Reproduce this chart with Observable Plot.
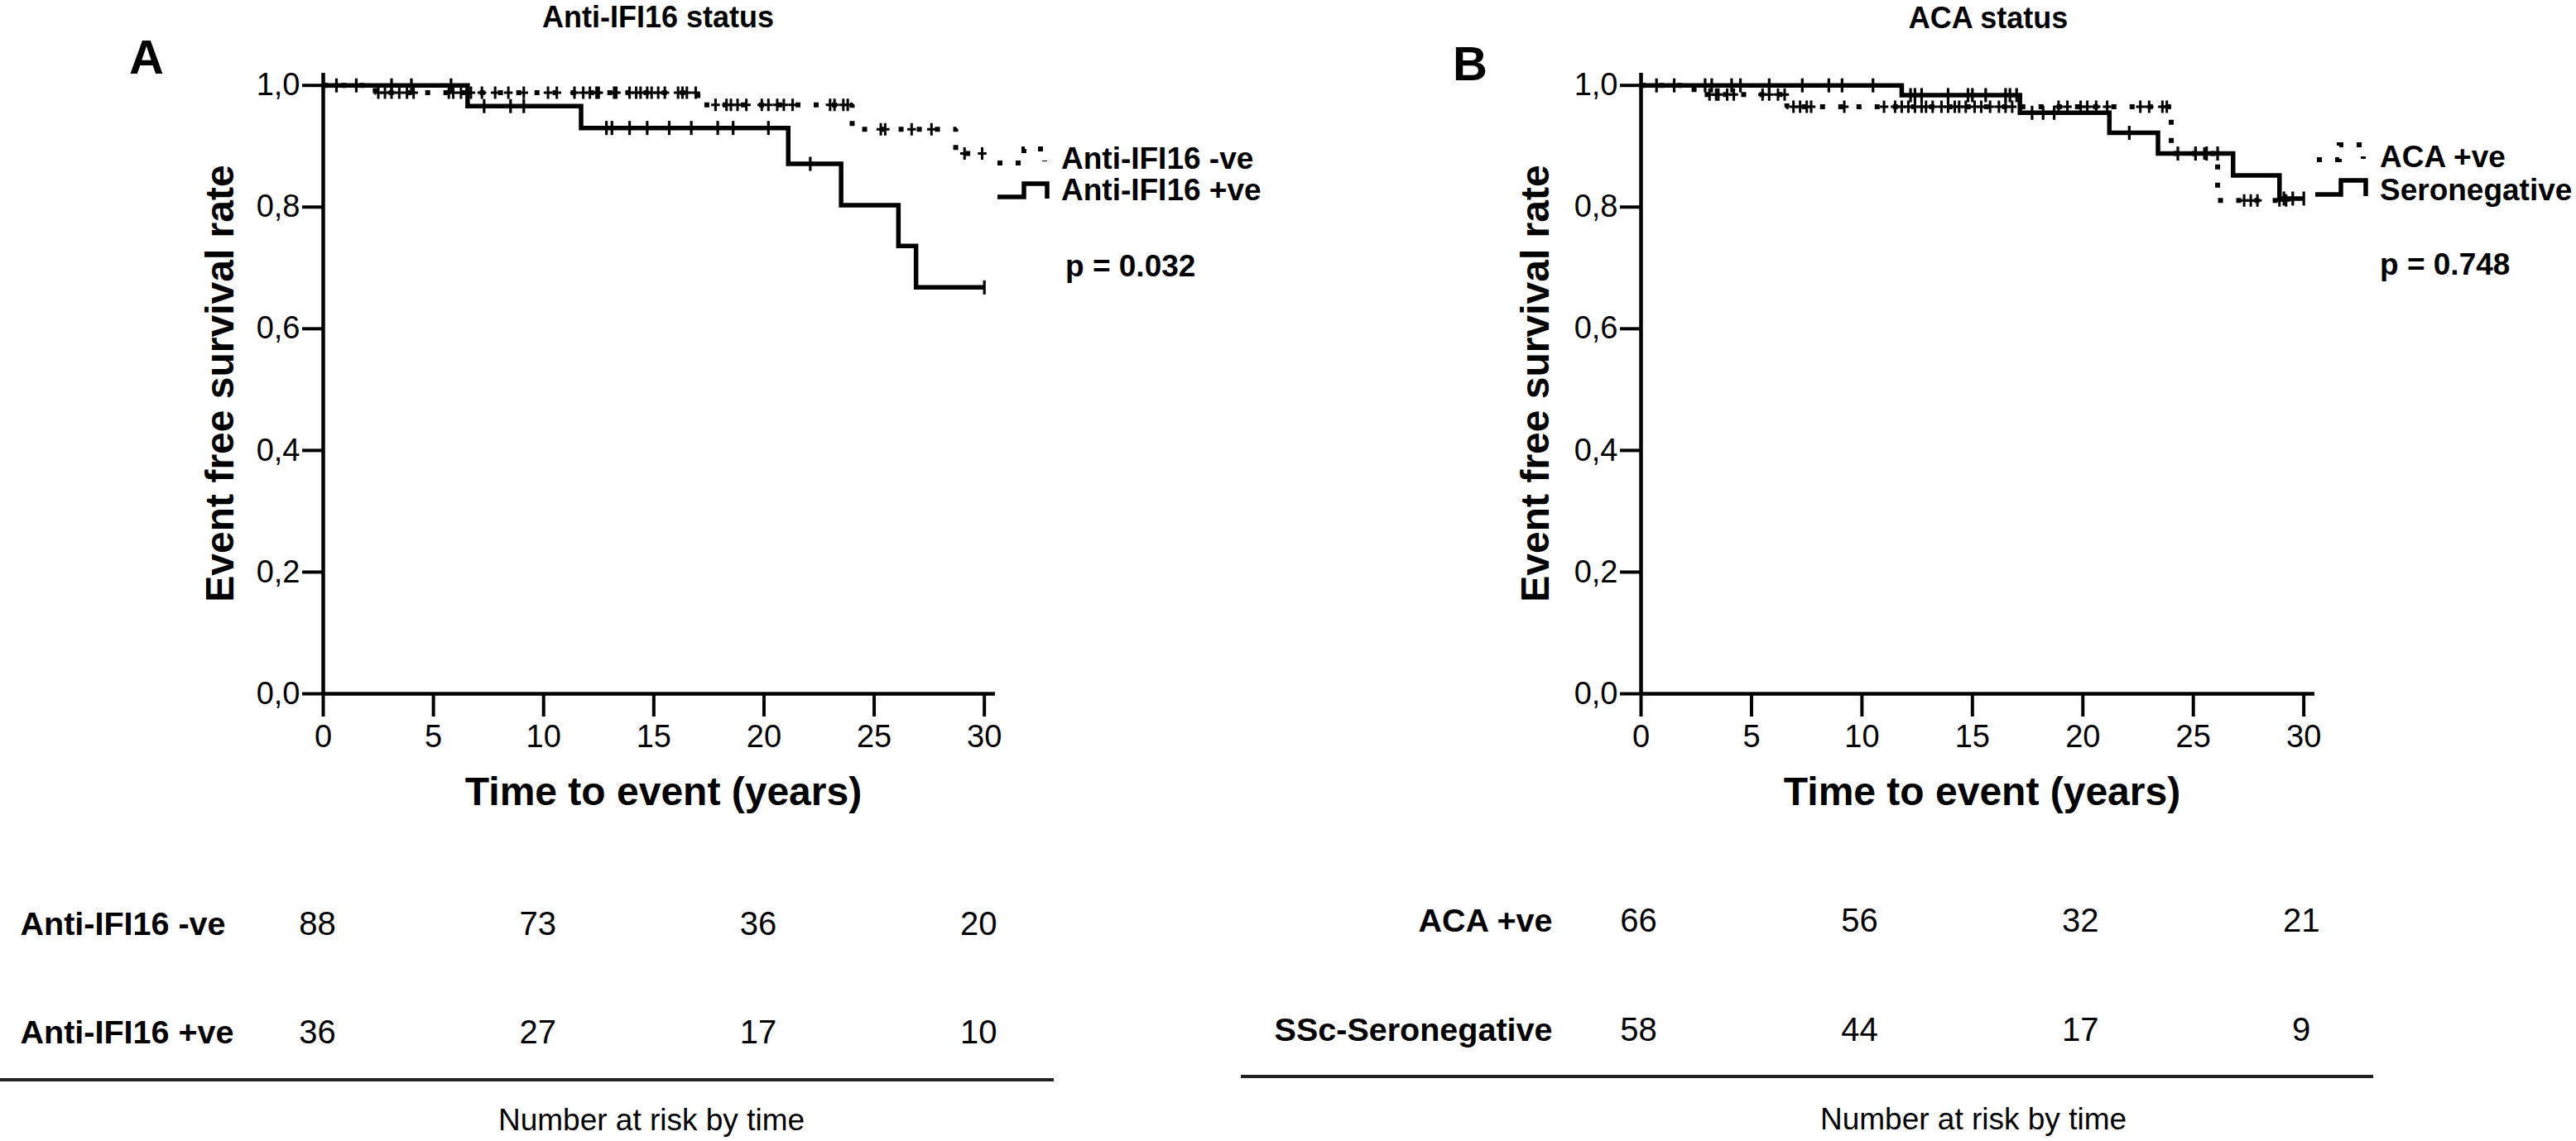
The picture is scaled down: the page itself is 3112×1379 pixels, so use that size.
<!DOCTYPE html>
<html><head><meta charset="utf-8">
<script src="https://cdn.jsdelivr.net/npm/d3@7"></script>
<script src="https://cdn.jsdelivr.net/npm/@observablehq/plot@0.6"></script>
<style>
html,body{margin:0;padding:0;background:#fff;}
#page{position:relative;width:3112px;height:1379px;overflow:hidden;background:#fff;font-family:"Liberation Sans",Arial,sans-serif;color:#000;}
.wrap{position:absolute;}
.lbl{position:absolute;white-space:nowrap;line-height:1.15;font-family:"Liberation Sans",Arial,sans-serif;}
</style></head><body><div id="page"></div>
<script>
// ---------- data ----------
const xTicks = [0, 5, 10, 15, 20, 25, 30];
const yTicks = [0, 0.2, 0.4, 0.6, 0.8, 1.0];
const riskTimes = [0, 10, 20, 30];

// Panel A: Anti-IFI16 status
const aTitle = "Anti-IFI16 status";
const aGroups = ["Anti-IFI16 -ve", "Anti-IFI16 +ve"];
const aNegTime = [0, 2.36, 17.0, 24.0, 28.7, 29.9];
const aNegSurv = [1, 0.988, 0.968, 0.928, 0.888, 0.888];
const aNegCensor = [2.5, 2.8, 3.1, 3.45, 3.8, 4.1, 5.7, 5.9, 6.25, 6.7, 7.2, 7.8, 8.4, 9.1, 10.2, 10.6, 11.4, 11.8, 12.1, 12.4, 12.5, 13.2, 13.3, 13.9, 14.2, 14.4, 14.7, 14.9, 15.2, 15.5, 16.1, 16.3, 16.5, 16.9, 17.8, 18.3, 18.5, 18.8, 19.2, 19.9, 20.2, 20.6, 20.9, 21.3, 23.0, 23.2, 23.6, 23.8, 25.3, 25.5, 26.7, 27.6, 29.1, 29.9];
const aPosTime = [0, 6.55, 11.7, 21.1, 23.5, 26.1, 26.9, 30.0];
const aPosSurv = [1, 0.966, 0.930, 0.871, 0.803, 0.736, 0.668, 0.668];
const aPosCensor = [0.6, 1.5, 3.1, 4.0, 5.8, 7.3, 8.5, 9.1, 12.85, 13.1, 13.9, 14.7, 15.7, 16.7, 17.9, 18.6, 20.2, 22.1, 30.0];
const aRiskNeg = [88, 73, 36, 20];
const aRiskPos = [36, 27, 17, 10];
const aP = "p = 0.032";

// Panel B: ACA status
const bTitle = "ACA status";
const bLegend = ["ACA +ve", "Seronegative"];
const bGroups = ["ACA +ve", "SSc-Seronegative"];
const bAcaTime = [0, 2.4, 6.6, 24.0, 26.1, 29.3];
const bAcaSurv = [1, 0.985, 0.965, 0.888, 0.811, 0.811];
const bAcaCensor = [3.1, 3.4, 3.5, 3.9, 4.2, 5.5, 5.8, 6.2, 6.5, 6.9, 7.2, 7.5, 7.7, 9.2, 11.0, 11.5, 11.8, 12.1, 12.4, 12.7, 12.9, 13.2, 13.6, 13.9, 14.2, 14.4, 14.7, 15.1, 15.4, 15.8, 16.2, 16.5, 16.8, 18.9, 19.3, 19.9, 20.2, 20.6, 21.1, 22.6, 23.0, 23.6, 23.8, 25.1, 25.5, 27.3, 27.6, 27.9, 28.9, 29.2];
const bSeroTime = [0, 11.8, 17.15, 21.2, 23.4, 26.8, 28.9, 30.0];
const bSeroSurv = [1, 0.984, 0.955, 0.922, 0.888, 0.852, 0.814, 0.814];
const bSeroCensor = [0.7, 1.5, 2.9, 3.2, 4.1, 4.5, 5.8, 7.3, 8.5, 9.1, 10.5, 12.2, 12.4, 12.7, 13.9, 14.8, 15.0, 15.6, 16.5, 16.7, 17.0, 17.7, 18.2, 18.7, 22.1, 24.3, 25.1, 25.6, 26.1, 29.1, 29.5, 30.0];
const bRiskAca = [66, 56, 32, 21];
const bRiskSero = [58, 44, 17, 9];
const bP = "p = 0.748";

const xLabel = "Time to event (years)";
const yLabel = "Event free survival rate";
const riskCaption = "Number at risk by time";

// ---------- helpers ----------
const page = document.getElementById("page");
const FONT = "Liberation Sans, Arial, sans-serif";

function steps(times, surv) { return times.map((t, i) => ({t, s: surv[i]})); }
function censors(times, surv, cts) {
  return cts.map(c => {
    let i = 0;
    for (let k = 0; k < times.length; k++) if (times[k] <= c) i = k;
    return {t: c, s: surv[i]};
  });
}
const vtick = {draw(ctx, size) { const r = Math.sqrt(size / Math.PI); ctx.moveTo(0, -r); ctx.lineTo(0, r); }};
const plusSym = {draw(ctx, size) { const r = Math.sqrt(size / Math.PI); ctx.moveTo(0, -r); ctx.lineTo(0, r); ctx.moveTo(-r * 0.7, 0); ctx.lineTo(r * 0.7, 0); }};

function survPlot(cfg) {
  return Plot.plot({
    width: cfg.width, height: 1000,
    marginLeft: cfg.ml, marginRight: cfg.mr, marginTop: 88, marginBottom: 162,
    x: {domain: [0, 30.5]},
    y: {domain: [0, 1.02]},
    style: {fontFamily: FONT, background: "white", color: "black", overflow: "visible"},
    marks: [
      Plot.axisX({ticks: xTicks, tickSize: 28, tickPadding: 10, fontSize: 38, strokeWidth: 4, label: null, tickFormat: d => String(d)}),
      Plot.axisY({ticks: yTicks, tickSize: 25, tickPadding: 3, fontSize: 38, strokeWidth: 4, label: null, tickFormat: d => d.toFixed(1).replace(".", ",")}),
      Plot.ruleX([0], {strokeWidth: 4.5, stroke: "black"}),
      Plot.ruleY([0], {strokeWidth: 4.5, stroke: "black"}),
      Plot.line(steps(cfg.dTime, cfg.dSurv), {x: "t", y: "s", curve: "step-after", stroke: "black", strokeWidth: 6, strokeDasharray: "6,16", strokeLinecap: "butt", strokeLinejoin: "miter"}),
      Plot.line(steps(cfg.sTime, cfg.sSurv), {x: "t", y: "s", curve: "step-after", stroke: "black", strokeWidth: 5.5, strokeLinecap: "butt", strokeLinejoin: "miter", strokeMiterlimit: 4}),
      Plot.dot(censors(cfg.dTime, cfg.dSurv, cfg.dCens), {x: "t", y: "s", symbol: plusSym, r: 7.5, stroke: "black", fill: "none", strokeWidth: 3}),
      Plot.dot(censors(cfg.sTime, cfg.sSurv, cfg.sCens), {x: "t", y: "s", symbol: vtick, r: 8.5, stroke: "black", fill: "none", strokeWidth: 3.2}),
      Plot.text([yLabel], {text: d => d, frameAnchor: "left", rotate: -90, dx: cfg.ydx, lineAnchor: "bottom", textAnchor: "middle", fontSize: 48, fontWeight: "bold", fill: "black"}),
      Plot.text([xLabel], {text: d => d, frameAnchor: "bottom", dx: 5, dy: 134, lineAnchor: "bottom", textAnchor: "middle", fontSize: 48, fontWeight: "bold", fill: "black"})
    ]
  });
}

function riskPlot(cfg) {
  const rows = [];
  cfg.groups.forEach((g, gi) => cfg.counts[gi].forEach((n, i) => rows.push({group: g, t: riskTimes[i], n})));
  return Plot.plot({
    width: cfg.width, height: 300,
    marginLeft: cfg.ml, marginRight: cfg.mr, marginTop: 0, marginBottom: 0,
    x: {domain: [0, 30.5], axis: null},
    y: {type: "point", domain: cfg.groups, range: cfg.yrange, padding: 0, axis: null},
    style: {fontFamily: FONT, background: "transparent", color: "black", overflow: "visible"},
    marks: [
      Plot.text(rows, {x: "t", y: "group", text: d => String(d.n), fontSize: 40, dx: cfg.ndx, fill: "black"}),
      Plot.text(cfg.groups, {y: d => d, text: d => d, frameAnchor: "left", textAnchor: cfg.labelAnchor, dx: cfg.ldx, fontSize: 39.5, fontWeight: "bold", fill: "black"})
    ]
  });
}

function place(el, left, top) {
  const w = document.createElement("div");
  w.className = "wrap";
  w.style.left = left + "px"; w.style.top = top + "px";
  w.appendChild(el);
  page.appendChild(w);
}

// line-height 1.15: baseline sits ~0.921em below the box top; cap centre ~0.563em
function label(text, x, yc, fs, bold, anchor) {
  const d = document.createElement("div");
  d.className = "lbl";
  d.textContent = text;
  d.style.fontSize = fs + "px";
  d.style.fontWeight = bold ? "bold" : "normal";
  d.style.top = (yc - 0.5635 * fs) + "px";
  d.style.left = x + "px";
  if (anchor === "middle") d.style.transform = "translateX(-50%)";
  page.appendChild(d);
}

// ---------- plots ----------
place(survPlot({width: 1560, ml: 390, mr: 358, ydx: -109,
  dTime: aNegTime, dSurv: aNegSurv, dCens: aNegCensor,
  sTime: aPosTime, sSurv: aPosSurv, sCens: aPosCensor}), 0, 0);
place(survPlot({width: 1552, ml: 422, mr: 316, ydx: -112,
  dTime: bAcaTime, dSurv: bAcaSurv, dCens: bAcaCensor,
  sTime: bSeroTime, sSurv: bSeroSurv, sCens: bSeroCensor}), 1560, 0);

place(riskPlot({width: 1560, ml: 390, mr: 358, groups: aGroups, counts: [aRiskNeg, aRiskPos],
  yrange: [77, 208], ndx: -7, labelAnchor: "start", ldx: -366}), 0, 1040);
place(riskPlot({width: 1552, ml: 422, mr: 316, groups: bGroups, counts: [bRiskAca, bRiskSero],
  yrange: [73, 205], ndx: -3, labelAnchor: "end", ldx: -107}), 1560, 1040);

// ---------- overlay: legend symbols and table rules ----------
const NS = "http://www.w3.org/2000/svg";
const ov = document.createElementNS(NS, "svg");
ov.setAttribute("width", 3112); ov.setAttribute("height", 1379);
ov.style.position = "absolute"; ov.style.left = "0"; ov.style.top = "0"; ov.style.pointerEvents = "none";
function path(d, attrs) {
  const p = document.createElementNS(NS, "path");
  p.setAttribute("d", d); p.setAttribute("fill", "none"); p.setAttribute("stroke", "black");
  for (const k in attrs) p.setAttribute(k, attrs[k]);
  ov.appendChild(p);
}
const dotted = {"stroke-width": 6, "stroke-dasharray": "6,16", "stroke-linecap": "butt"};
const solid = {"stroke-width": 5.5, "stroke-linejoin": "miter"};
path("M1205,197 H1237 V180 H1262 V195", dotted);
path("M1205,238 H1237 V222 H1265 V240", solid);
path("M2799,193 H2826 V175 H2855 V192", dotted);
path("M2797,235 H2828 V218 H2858 V237", solid);
path("M0,1305 H1273", {"stroke-width": 4, stroke: "#222"});
path("M1499,1301 H2867", {"stroke-width": 4, stroke: "#222"});
page.appendChild(ov);

// ---------- text ----------
label(aTitle, 795, 20, 36, true, "middle");
label(bTitle, 2402, 21, 36, true, "middle");
label("A", 156, 69, 58, true, "start");
label("B", 1755, 77, 58, true, "start");
label(aGroups[0], 1282, 192, 37, true, "start");
label(aGroups[1], 1282, 230, 37, true, "start");
label(aP, 1287, 322, 37, true, "start");
label(bLegend[0], 2875, 190, 37, true, "start");
label(bLegend[1], 2875, 230, 37, true, "start");
label(bP, 2875, 320, 37, true, "start");
label(riskCaption, 787, 1354, 37, false, "middle");
label(riskCaption, 2384, 1353, 37, false, "middle");
</script></body></html>
